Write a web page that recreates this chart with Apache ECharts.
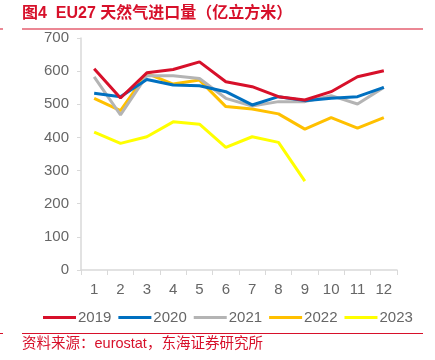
<!DOCTYPE html>
<html><head><meta charset="utf-8">
<script src="https://cdn.jsdelivr.net/npm/echarts@6/dist/echarts.min.js"></script>
<style>html,body{margin:0;padding:0;background:#fff}#c{width:435px;height:360px}</style>
</head><body><div id="c"></div>
<script>
const categories = ['1','2','3','4','5','6','7','8','9','10','11','12'];
const s2019 = [607, 519, 595, 605, 628, 568, 553, 523, 513, 538, 583, 601];
const s2020 = [533, 523, 575, 558, 556, 538, 498, 523, 511, 518, 523, 551];
const s2021 = [583, 468, 586, 586, 578, 518, 495, 508, 508, 526, 501, 551];
const s2022 = [518, 481, 593, 561, 573, 493, 486, 471, 425, 460, 428, 460];
const s2023 = [416, 382, 402, 447, 440, 370, 402, 385, 268];
const yTicks = [0, 100, 200, 300, 400, 500, 600, 700];
const seriesNames = ['2019','2020','2021','2022','2023'];
const colors = ['#D7102A','#0070C0','#B4B4B4','#FFC000','#FFFF00'];
const allData = [s2019, s2020, s2021, s2022, s2023];

const chart = echarts.init(document.getElementById('c'));
const font = 'Arial, "Liberation Sans", "Noto Sans CJK SC", sans-serif';
chart.setOption({
  animation: false,
  color: colors,
  grid: {left: 81, right: 38, top: 38, bottom: 90},
  legend: {
    bottom: 30, left: 38,
    itemWidth: 33, itemHeight: 3, itemGap: 7,
    icon: 'rect',
    textStyle: {fontSize: 15, color: '#666666', fontFamily: font, padding: [0,0,0,-3]},
    data: seriesNames
  },
  xAxis: {
    type: 'category', data: categories, boundaryGap: true,
    axisLine: {lineStyle: {color: '#D9D9D9', width: 1.5}},
    axisTick: {show: true, length: 5, lineStyle: {color: '#D9D9D9'}},
    axisLabel: {fontSize: 15, color: '#666666', fontFamily: font, margin: 12}
  },
  yAxis: {
    type: 'value', min: yTicks[0], max: yTicks[yTicks.length-1], interval: 100,
    axisLine: {show: true, lineStyle: {color: '#D9D9D9', width: 1.5}},
    axisTick: {show: true, length: 4, lineStyle: {color: '#D9D9D9'}},
    splitLine: {show: false},
    axisLabel: {fontSize: 15, color: '#666666', fontFamily: font, margin: 12}
  },
  series: seriesNames.map((n, i) => ({
    name: n, type: 'line', data: allData[i], showSymbol: false, symbol: 'none',
    lineStyle: {width: 3, color: colors[i]}, z: 10 - i
  })),
  graphic: [
    {type: 'text', left: 22, top: 6, style: {text: '图4  EU27 天然气进口量（亿立方米）', fill: '#D7102A', font: 'bold 16px ' + font}},
    {type: 'rect', shape: {x: 22, y: 28.5, width: 401, height: 1}, style: {fill: '#D7102A'}},
    {type: 'rect', shape: {x: 0, y: 28.5, width: 3, height: 1}, style: {fill: '#D7102A'}},
    {type: 'rect', shape: {x: 22, y: 333, width: 401, height: 1}, style: {fill: '#D7102A'}},
    {type: 'rect', shape: {x: 0, y: 333, width: 3, height: 1}, style: {fill: '#D7102A'}},
    {type: 'text', left: 22, top: 337, style: {text: '资料来源：eurostat，东海证券研究所', fill: '#D7102A', font: '14.5px ' + font}}
  ]
});
</script></body></html>
